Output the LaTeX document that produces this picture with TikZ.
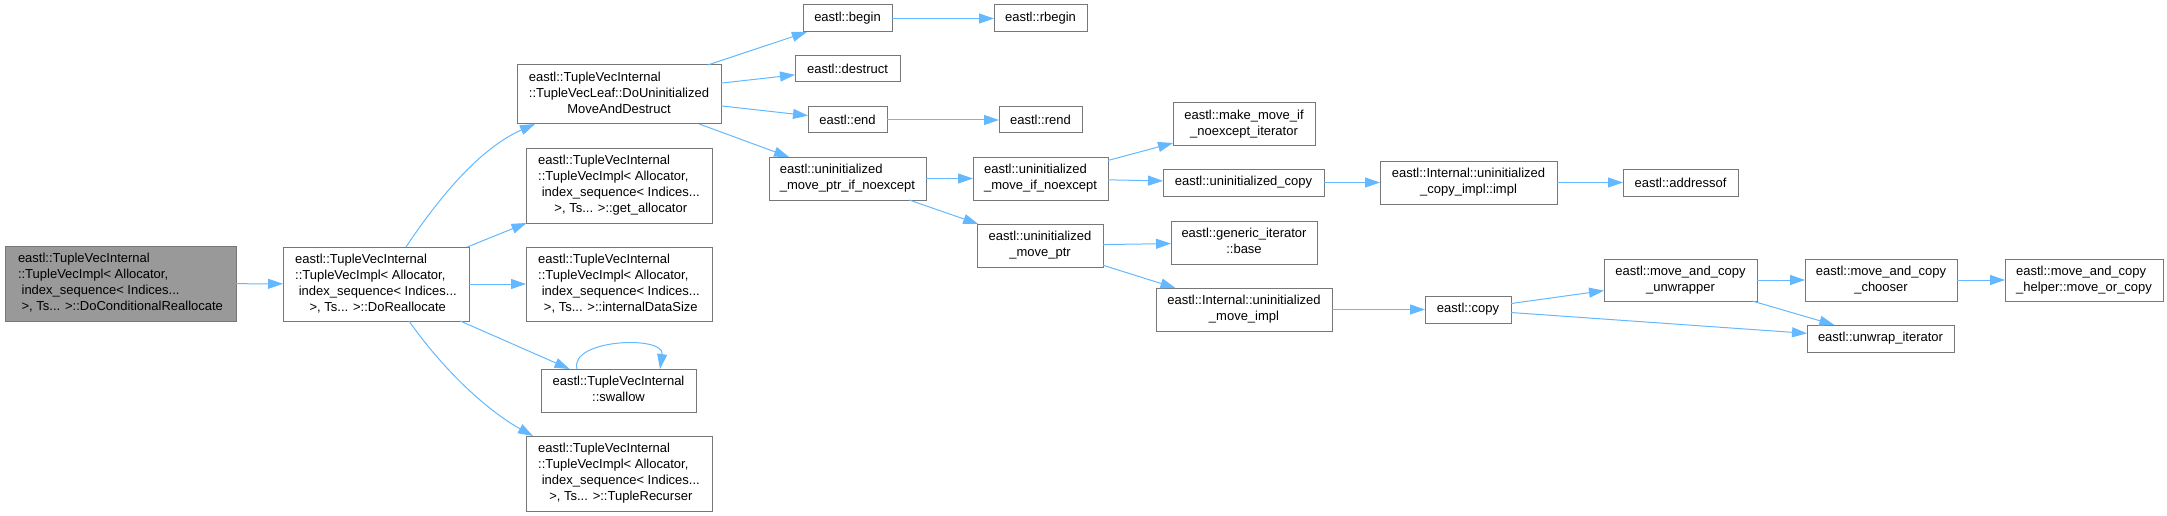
\documentclass[tikz,border=0pt]{standalone}
\usepackage{fontspec}
\setmainfont{Liberation Sans}
\usetikzlibrary{arrows.meta}
\definecolor{edgecol}{HTML}{63B8FF}
\definecolor{bordercol}{HTML}{777777}
\definecolor{rootfill}{HTML}{999999}
\newcommand{\mcc}[1]{\multicolumn{1}{@{}c@{}}{#1}}
\newcommand{\lbl}[2]{\begin{tabular}{@{}#1@{}}#2\end{tabular}}
\tikzset{
  box/.style={draw=bordercol, line width=1pt, fill=white, inner sep=0pt, outer sep=0pt,
    anchor=north west, font=\fontsize{13pt}{16pt}\selectfont},
  root/.style={box, fill=rootfill},
  edge/.style={draw=edgecol, line width=1pt, -{Triangle[length=15pt,width=10pt]}}
}
\begin{document}
\begin{tikzpicture}[x=1pt,y=-1pt]
\useasboundingbox (0,0) rectangle (2167,516);
% column 0/1
\node[root, minimum width=231pt, minimum height=75pt] (A) at (5,246)
  {\lbl{l}{eastl::TupleVecInternal\\::TupleVecImpl< Allocator,\\\ index\_sequence< Indices...\\\ >, Ts... >::DoConditionalReallocate}};
\node[box, minimum width=186pt, minimum height=74pt] (B) at (283,247)
  {\lbl{l}{eastl::TupleVecInternal\\::TupleVecImpl< Allocator,\\\ index\_sequence< Indices...\\\mcc{\ >, Ts... >::DoReallocate}}};
% column 2
\node[box, minimum width=204pt, minimum height=59pt] (C) at (517,65)
  {\lbl{l}{eastl::TupleVecInternal\\::TupleVecLeaf::DoUninitialized\\\mcc{MoveAndDestruct}}};
\node[box, minimum width=186pt, minimum height=75pt] (D) at (526,148)
  {\lbl{l}{eastl::TupleVecInternal\\::TupleVecImpl< Allocator,\\\ index\_sequence< Indices...\\\mcc{\ >, Ts... >::get\_allocator}}};
\node[box, minimum width=186pt, minimum height=74pt] (E) at (526,247)
  {\lbl{l}{eastl::TupleVecInternal\\::TupleVecImpl< Allocator,\\\ index\_sequence< Indices...\\\mcc{\ >, Ts... >::internalDataSize}}};
\node[box, minimum width=155pt, minimum height=43pt] (F) at (541,369)
  {\lbl{c}{eastl::TupleVecInternal\\::swallow}};
\node[box, minimum width=186pt, minimum height=75pt] (G) at (526,436)
  {\lbl{l}{eastl::TupleVecInternal\\::TupleVecImpl< Allocator,\\\ index\_sequence< Indices...\\\mcc{\ >, Ts... >::TupleRecurser}}};
% column 3
\node[box, minimum width=89pt, minimum height=27pt] (H) at (803,5) {eastl::begin};
\node[box, minimum width=105pt, minimum height=26pt] (J) at (795,56) {eastl::destruct};
\node[box, minimum width=79pt, minimum height=26pt] (K) at (808,107) {eastl::end};
\node[box, minimum width=157pt, minimum height=43pt] (M) at (769,157)
  {\lbl{l}{eastl::uninitialized\\\_move\_ptr\_if\_noexcept}};
% column 4
\node[box, minimum width=93pt, minimum height=27pt] (I) at (994,5) {eastl::rbegin};
\node[box, minimum width=83pt, minimum height=26pt] (L) at (999,107) {eastl::rend};
\node[box, minimum width=135pt, minimum height=43pt] (N) at (973,157)
  {\lbl{l}{eastl::uninitialized\\\_move\_if\_noexcept}};
\node[box, minimum width=126pt, minimum height=43pt] (O) at (977,224)
  {\lbl{c}{eastl::uninitialized\\\_move\_ptr}};
% column 5
\node[box, minimum width=142pt, minimum height=42pt] (P) at (1173,103)
  {\lbl{c}{eastl::make\_move\_if\\\_noexcept\_iterator}};
\node[box, minimum width=161pt, minimum height=27pt] (Q) at (1163,169) {eastl::uninitialized\_copy};
\node[box, minimum width=146pt, minimum height=43pt] (T) at (1171,221)
  {\lbl{c}{eastl::generic\_iterator\\::base}};
\node[box, minimum width=176pt, minimum height=43pt] (U) at (1156,288)
  {\lbl{c}{eastl::Internal::uninitialized\\\_move\_impl}};
% column 6
\node[box, minimum width=177pt, minimum height=43pt] (R) at (1380,161)
  {\lbl{c}{eastl::Internal::uninitialized\\\_copy\_impl::impl}};
\node[box, minimum width=86pt, minimum height=27pt] (V) at (1425,296) {eastl::copy};
% column 7
\node[box, minimum width=115pt, minimum height=27pt] (S) at (1623,169) {eastl::addressof};
\node[box, minimum width=153pt, minimum height=42pt] (W) at (1604,259)
  {\lbl{c}{eastl::move\_and\_copy\\\_unwrapper}};
% column 8
\node[box, minimum width=152pt, minimum height=42pt] (X) at (1805,259)
  {\lbl{c}{eastl::move\_and\_copy\\\_chooser}};
\node[box, minimum width=147pt, minimum height=27pt] (Z) at (1807,325) {eastl::unwrap\_iterator};
% column 9
\node[box, minimum width=158pt, minimum height=42pt] (Y) at (2005,259)
  {\lbl{l}{eastl::move\_and\_copy\\\_helper::move\_or\_copy}};
% edges
\draw[edge] (A) -- (B);
\draw[edge] ([xshift=30pt]B.north) .. controls +(40,-60) and +(-50,22) .. ([xshift=18pt]C.south west);
\draw[edge] (B) -- (D);
\draw[edge] (B) -- (E);
\draw[edge] (B) -- (F);
\draw[edge] ([xshift=33pt]B.south) .. controls +(35,50) and +(-45,-25) .. ([xshift=7pt]G.north west);
\draw[edge] ([xshift=36pt]F.north west) .. controls +(-8,-30) and +(5,-34) .. ([xshift=-36pt]F.north east);
\draw[edge] (C) -- (H);
\draw[edge] (C) -- (J);
\draw[edge] (C) -- (K);
\draw[edge] (C) -- (M);
\draw[edge] (H) -- (I);
\draw[edge] (K) -- (L);
\draw[edge] (M) -- (N);
\draw[edge] (M) -- (O);
\draw[edge] (N) -- (P);
\draw[edge] (N) -- (Q);
\draw[edge] (Q) -- (R);
\draw[edge] (R) -- (S);
\draw[edge] (O) -- (T);
\draw[edge] (O) -- (U);
\draw[edge] (U) -- (V);
\draw[edge] (V) -- (W);
\draw[edge] (V) -- (Z);
\draw[edge] (W) -- (X);
\draw[edge] (W) -- (Z);
\draw[edge] (X) -- (Y);
\end{tikzpicture}
\end{document}
